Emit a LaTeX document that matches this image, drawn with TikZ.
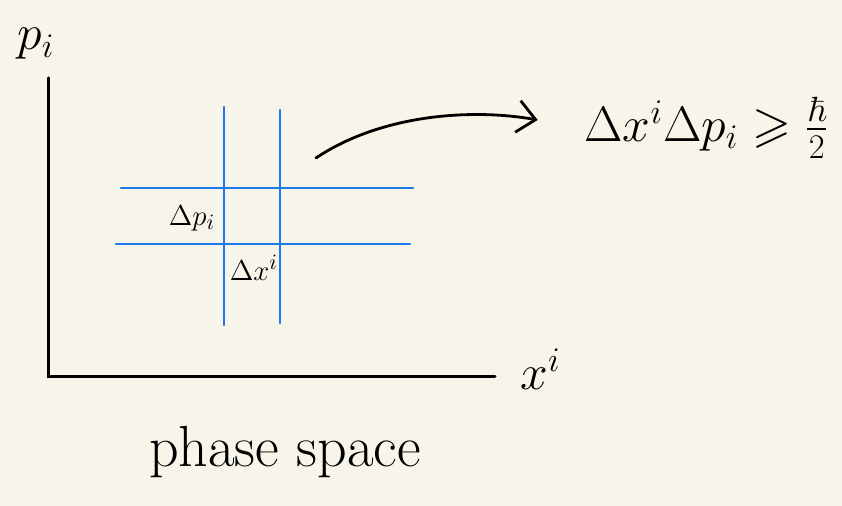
\documentclass[tikz,border=0pt]{standalone}
\usepackage{amsmath,amssymb}
\usetikzlibrary{arrows.meta, positioning}
\definecolor{paper}{RGB}{247,245,233}
\definecolor{gridblue}{RGB}{28,122,235}

\begin{document}
\begin{tikzpicture}[x=0.5pt, y=-0.5pt, line width=1.4pt, line cap=round, >={Straight Barb[length=9pt, width=16pt, line width=1.4pt]}]

\tikzstyle{axis} = [draw=black, line width=1.5pt]
\tikzstyle{cell} = [draw=gridblue, line width=1.4pt]
\tikzstyle{big_label} = [inner sep=0pt, font=\fontsize{24}{28}\selectfont]
\tikzstyle{small_label} = [inner sep=0pt, font=\fontsize{15}{18}\selectfont]
\tikzstyle{flow} = [->, line width=1.4pt]

\fill[paper] (0,0) rectangle (842,506);
\useasboundingbox (0,0) rectangle (842,506);

% axes
\coordinate (O) at (48,377);
\coordinate (ytop) at (48,78);
\coordinate (xend) at (495,377);
\draw [axis] (ytop) -- (O) -- (xend);
\node (pi) [big_label] at (36,44) {$p_i$};
\node (xi) [big_label, right=12pt of xend, yshift=4pt] {$x^i$};

% one cell of phase space
\draw [cell] (224,107) -- (224,325);
\draw [cell] (280,110) -- (280,323);
\draw [cell] (121,188) -- (413,188);
\draw [cell] (116,244) -- (410,244);
\node (dp) [small_label] at (192,218) {$\Delta p_i$};
\node (dx) [small_label] at (254,268) {$\Delta x^i$};

% uncertainty relation
\node (rel) [inner sep=0pt, anchor=west, font=\fontsize{25}{30}\selectfont] at (583,128) {$\Delta x^i\Delta p_i\geqslant\frac{\hbar}{2}$};
\coordinate (from) at (316,158);
\draw [flow, shorten >=23pt] (from) .. controls (380,115) and (470,108) .. (rel.west);

\node (title) [inner sep=0pt, font=\fontsize{29}{34}\selectfont] at (285,452) {phase space};

\end{tikzpicture}
\end{document}
